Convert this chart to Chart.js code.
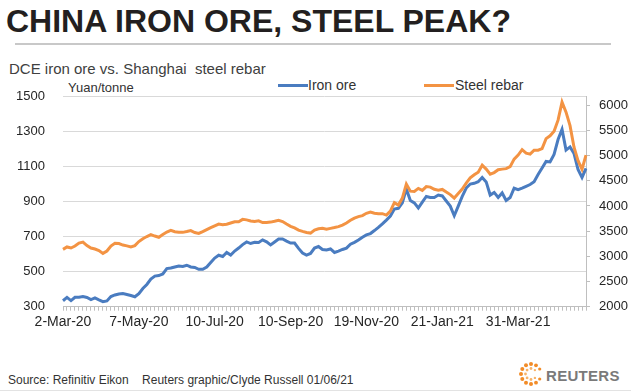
<!DOCTYPE html>
<html>
<head>
<meta charset="utf-8">
<script src="https://cdn.jsdelivr.net/npm/chart.js@4.4.1/dist/chart.umd.min.js"></script>
<style>
  html, body { margin: 0; padding: 0; background: #fff; }
  body { width: 631px; height: 392px; position: relative; overflow: hidden; font-family: 'Liberation Sans', Arial, sans-serif; }
  .txt { position: absolute; line-height: 1; white-space: pre; }
  #title { left: 6px; top: 5px; font-size: 32px; font-weight: bold; color: #231f20; }
  #rule { position: absolute; left: 15px; top: 43px; width: 596px; height: 2px; background: #c8c8c8; }
  #subtitle { left: 9px; top: 61px; font-size: 15px; color: #404040; }
  #unit { left: 68px; top: 81px; font-size: 13px; color: #333; }
  .key { position: absolute; top: 84px; width: 30px; height: 3px; }
  .keytxt { top: 78px; font-size: 14px; color: #333; }
  #chart { position: absolute; left: 0; top: 0; }
  #source { left: 8px; top: 374px; font-size: 12px; color: #333; }
  #reuters { left: 546px; top: 368px; font-size: 15px; font-weight: bold; color: #7a7a7a; letter-spacing: 0.3px; }
  #logo { position: absolute; left: 518px; top: 361px; }
  #bottomline { position: absolute; left: 0; top: 390px; width: 631px; height: 1px; background: #e3e3e3; }
</style>
</head>
<body>
<div id="title" class="txt">CHINA IRON ORE, STEEL PEAK?</div>
<div id="rule"></div>
<div id="subtitle" class="txt">DCE iron ore vs. Shanghai  steel rebar</div>
<div id="unit" class="txt">Yuan/tonne</div>
<div class="key" style="left:278px;background:#4a7cc0"></div>
<div class="txt keytxt" style="left:308px">Iron ore</div>
<div class="key" style="left:424px;background:#f39343"></div>
<div class="txt keytxt" style="left:455px">Steel rebar</div>
<canvas id="chart" width="631" height="340"></canvas>
<div id="source" class="txt">Source: Refinitiv Eikon    Reuters graphic/Clyde Russell 01/06/21</div>
<svg id="logo" width="26" height="26" viewBox="-13 -13 26 26">
  <g fill="#f28c28">
    <circle cx="0" cy="-10" r="2"/><circle cx="5" cy="-8.7" r="1.9"/><circle cx="-5" cy="-8.7" r="2"/>
    <circle cx="-8.7" cy="-5" r="2"/><circle cx="-10" cy="0" r="2"/><circle cx="-8.7" cy="5" r="2"/>
    <circle cx="-5" cy="8.7" r="2"/><circle cx="0" cy="10" r="2"/><circle cx="5" cy="8.7" r="1.9"/>
    <circle cx="8.7" cy="5" r="1.6"/><circle cx="8.7" cy="-5" r="1.6"/>
  </g>
  <g fill="#f7b36a">
    <circle cx="0" cy="-5.5" r="1.4"/><circle cx="-3.9" cy="-3.9" r="1.4"/><circle cx="-5.5" cy="0" r="1.4"/>
    <circle cx="-3.9" cy="3.9" r="1.4"/><circle cx="0" cy="5.5" r="1.4"/><circle cx="3.9" cy="3.9" r="1.2"/>
    <circle cx="3.9" cy="-3.9" r="1.2"/>
  </g>
</svg>
<div id="reuters" class="txt">REUTERS</div>
<div id="bottomline"></div>

<script>
// DCE iron ore, yuan/tonne (left axis)
const ironOre = [
  334, 353, 335, 354, 354, 358, 353, 341, 350, 339,
  329, 333, 358, 367, 373, 375, 370, 364, 357, 375,
  404, 427, 458, 475, 478, 487, 518, 521, 527, 533,
  530, 537, 527, 524, 514, 514, 527, 553, 578, 594,
  587, 610, 595, 618, 635, 655, 670, 661, 668, 667,
  682, 671, 653, 670, 687, 687, 675, 664, 664, 633,
  607, 595, 604, 635, 644, 627, 624, 630, 610, 618,
  627, 635, 657, 668, 681, 697, 710, 718, 735, 753,
  773, 795, 818, 858, 862, 893, 973, 907, 893, 864,
  898, 930, 924, 924, 938, 933, 904, 875, 820, 875,
  930, 978, 1001, 1005, 1014, 1038, 1013, 938, 953, 924,
  950, 907, 924, 977, 969, 978, 988, 998, 1014, 1055,
  1093, 1130, 1127, 1170, 1255, 1313, 1195, 1213, 1175, 1084,
  1039, 1091
];

// Shanghai steel rebar, yuan/tonne (right axis)
const steelRebar = [
  3139, 3186, 3165, 3204, 3264, 3284, 3214, 3165, 3145, 3115,
  3059, 3105, 3204, 3258, 3254, 3224, 3208, 3188, 3214, 3294,
  3351, 3393, 3430, 3403, 3379, 3432, 3482, 3516, 3488, 3478,
  3476, 3492, 3510, 3472, 3456, 3492, 3532, 3571, 3607, 3641,
  3627, 3637, 3661, 3686, 3686, 3734, 3724, 3702, 3690, 3704,
  3671, 3673, 3680, 3696, 3716, 3690, 3641, 3595, 3565, 3522,
  3496, 3474, 3462, 3522, 3548, 3559, 3538, 3555, 3571, 3589,
  3621, 3663, 3716, 3760, 3788, 3809, 3855, 3879, 3855, 3845,
  3847, 3819, 3899, 4067, 4018, 4157, 4434, 4295, 4290, 4349,
  4309, 4385, 4375, 4331, 4315, 4329, 4276, 4226, 4157, 4246,
  4335, 4454, 4557, 4619, 4672, 4811, 4732, 4633, 4663, 4720,
  4732, 4742, 4782, 4930, 5010, 5117, 5049, 5030, 5109, 5109,
  5139, 5337, 5393, 5486, 5704, 6061, 5863, 5595, 5168, 4901,
  4732, 5010
];

// date labels shown under the axis, one every `labelEvery` points
const tickLabels = ['2-Mar-20', '7-May-20', '10-Jul-20', '10-Sep-20', '19-Nov-20', '21-Jan-21', '31-Mar-21'];
const labelEvery = 19;

// right-axis tick values
const rebarTicks = [2000, 2500, 3000, 3500, 4000, 4500, 5000, 5500, 6000];

const categories = ironOre.map((v, i) => i % labelEvery === 0 ? (tickLabels[i / labelEvery] || '') : '');

Chart.defaults.font.family = "'Liberation Sans', Arial, sans-serif";
Chart.defaults.color = '#262626';

new Chart(document.getElementById('chart'), {
  type: 'line',
  data: {
    labels: categories,
    datasets: [
      {
        label: 'Iron ore',
        data: ironOre,
        yAxisID: 'y',
        borderColor: '#4a7cc0',
        borderWidth: 3,
        pointRadius: 0,
        order: 1
      },
      {
        label: 'Steel rebar',
        data: steelRebar,
        yAxisID: 'y1',
        borderColor: '#f39343',
        borderWidth: 3,
        pointRadius: 0,
        order: 0
      }
    ]
  },
  options: {
    responsive: false,
    animation: false,
    layout: { padding: { top: 96.7, left: 0, right: 0, bottom: 0 } },
    plugins: {
      legend: { display: false },
      tooltip: { enabled: false }
    },
    scales: {
      x: {
        afterFit: s => { s.height = 33.3; },
        grid: { drawOnChartArea: false, tickLength: 4, color: '#bfbfbf' },
        border: { color: '#bfbfbf' },
        ticks: { autoSkip: false, maxRotation: 0, minRotation: 0, padding: 3, font: { size: 14 } }
      },
      y: {
        position: 'left',
        min: 300,
        max: 1500,
        afterFit: s => { s.width = 63; },
        grid: { color: '#d9d9d9', drawTicks: false },
        border: { display: false },
        ticks: { stepSize: 200, padding: 18, font: { size: 13 }, callback: v => String(v) }
      },
      y1: {
        position: 'right',
        min: 2000,
        max: 6170,
        afterFit: s => { s.width = 45; },
        afterBuildTicks: s => { s.ticks = rebarTicks.map(v => ({ value: v })); },
        grid: { drawOnChartArea: false, tickLength: 4, color: '#bfbfbf' },
        border: { color: '#bfbfbf' },
        ticks: { padding: 9, font: { size: 13 }, callback: v => String(v) }
      }
    }
  }
});
</script>
</body>
</html>
